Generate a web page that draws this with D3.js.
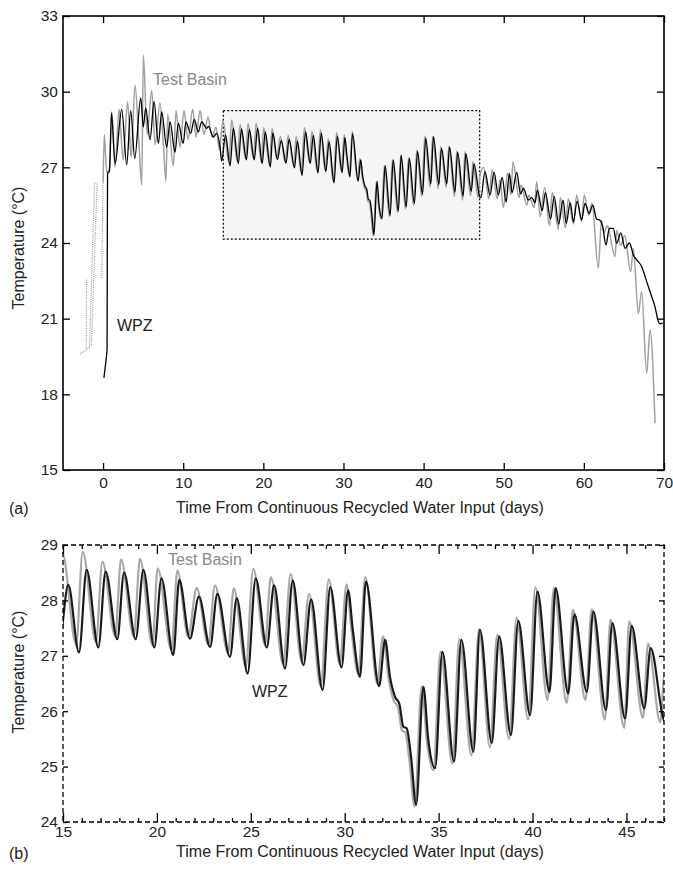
<!DOCTYPE html>
<html>
<head>
<meta charset="utf-8">
<script src="https://cdn.jsdelivr.net/npm/d3@7/dist/d3.min.js"></script>
<style>
body{margin:0;background:#fff;}
text{font-family:"Liberation Sans",Arial,sans-serif;}
</style>
</head>
<body>
<svg id="chart" width="673" height="869"></svg>
<script>
// WPZ temperature, [day, degC] (peaks and troughs)
var wpz = [[0.1,18.65],[0.35,19.3],[0.5,19.8],[0.53,24],[0.56,26.75],[0.8,26.85],[1.05,29.15],[1.5,27.15],
[2.33,29.3],[2.95,27.1],[3.45,29.25],[3.95,27.35],[4.7,29.75],[5.02,28.6],[5.32,29.35],[5.86,28.1],
[6.36,29.6],[6.9,27.95],[7.32,29.2],[7.94,27.8],[8.36,28.8],[8.98,27.6],[9.39,28.75],[10.0,27.95],
[10.34,28.8],[10.93,28.35],[11.38,28.9],[11.88,28.4],[12.3,28.8],[12.93,28.55],[13.15,28.62],[13.76,28.2],
[14.18,28.35],[14.6,27.8],[14.8,27.25],
[15.28,28.28],[15.85,27.06],[16.26,28.55],[16.88,27.15],[17.27,28.52],[17.89,27.3],[18.25,28.5],[18.87,27.3],
[19.28,28.55],[19.86,27.15],[20.24,28.4],[20.87,27.01],[21.19,28.37],[21.76,27.31],[22.24,28.07],[22.83,27.16],
[23.22,28.12],[23.89,26.98],[24.25,28.04],[24.83,26.68],[25.26,28.4],[25.85,27.15],[26.24,28.27],[26.82,26.77],
[27.23,28.36],[27.8,26.83],[28.21,28.02],[28.82,26.38],[29.23,28.24],[29.83,26.79],[30.18,28.18],[30.43,27.47],
[30.81,26.62],[31.13,28.34],[31.83,26.45],[32.15,27.29],[32.41,26.62],[32.68,26.26],[32.91,26.13],[33.12,25.72],
[33.3,25.69],[33.53,25.18],[33.8,24.31],[34.19,26.44],[34.45,25.48],[34.81,24.97],[35.2,27.07],[35.82,25.09],
[36.21,27.29],[36.85,25.27],[37.2,27.47],[37.83,25.43],[38.22,27.35],[38.85,25.57],[39.24,27.63],[39.87,25.93],
[40.26,28.16],[40.9,26.35],[41.23,28.22],[41.9,26.32],[42.23,27.75],[42.89,26.35],[43.24,27.8],[43.91,26.02],
[44.25,27.59],[44.93,25.87],[45.28,27.54],[45.95,26.05],[46.29,27.14],[47.0,25.84],
[47.15,25.8],[47.66,26.83],[48.29,25.9],[48.79,26.8],[49.33,25.9],[49.8,26.6],[50.3,25.62],[50.7,26.75],
[51.05,26.0],[51.62,26.8],[52.1,25.95],[52.44,26.17],[53.07,25.7],[53.5,25.8],[53.9,25.6],[54.2,26.1],
[54.8,25.28],[55.2,26.0],[55.85,24.95],[56.3,25.85],[56.85,24.75],[57.4,25.7],[57.8,24.78],[58.3,25.6],
[58.7,24.84],[59.15,25.65],[59.73,24.92],[60.14,25.57],[60.68,25.17],[61.1,25.5],[61.6,24.95],[62.0,24.9],
[62.35,24.65],[62.76,23.92],[63.18,24.58],[63.68,24.58],[64.1,23.99],[64.6,24.4],[65.14,23.79],[65.7,24.0],
[66.17,23.52],[66.6,23.33],[67.22,23.06],[67.84,22.47],[68.47,21.87],[68.88,21.47],[69.3,20.88],[69.5,20.79],
[69.84,20.82]];

// Test Basin temperature, [day, degC]
var basin = [[0.0,26.4],[0.16,28.3],[0.45,26.8],[0.8,27.0],[1.08,29.2],[1.5,27.0],[2.0,29.3],[2.5,27.3],
[3.07,29.6],[3.5,27.4],[3.99,30.25],[4.5,27.8],[4.82,26.3],[5.03,31.45],[5.5,28.3],[6.07,30.05],[6.5,27.9],
[7.1,29.55],[7.5,28.0],[7.85,26.45],[8.06,29.1],[8.77,27.05],[9.1,29.25],[9.6,27.8],[10.1,29.25],[10.6,28.1],
[11.19,29.3],[11.6,28.2],[12.1,29.25],[12.6,28.3],[13.1,29.0],[13.6,28.2],[14.1,28.6],[14.5,27.7],[14.97,28.85],
[15.7,27.2],[16.05,28.88],[16.75,27.25],[17.1,28.7],[17.78,27.35],[18.09,28.74],[18.77,27.35],[19.1,28.75],
[19.76,27.2],[20.04,28.58],[20.77,27.1],[21.09,28.54],[21.66,27.35],[22.12,28.22],[22.73,27.2],[23.09,28.27],
[23.79,27.05],[24.09,28.22],[24.73,26.8],[25.13,28.57],[25.75,27.2],[26.07,28.42],[26.72,26.85],[27.12,28.48],
[27.7,26.9],[28.1,28.12],[28.72,26.45],[29.15,28.38],[29.73,26.85],[30.1,28.29],[30.35,27.5],[30.71,26.68],
[31.1,28.42],[31.73,26.5],[32.05,27.35],[32.33,26.6],[32.6,26.2],[32.85,26.05],[33.05,25.65],[33.22,25.62],
[33.45,25.1],[33.72,24.28],[34.1,26.45],[34.38,25.45],[34.72,24.93],[35.1,27.07],[35.73,25.05],[36.1,27.3],
[36.75,25.2],[37.15,27.48],[37.73,25.35],[38.12,27.38],[38.75,25.5],[39.15,27.69],[39.77,25.85],[40.15,28.24],
[40.8,26.2],[41.13,28.22],[41.82,26.15],[42.15,27.83],[42.82,26.2],[43.15,27.84],[43.85,25.85],[44.15,27.65],
[44.88,25.7],[45.15,27.62],[45.88,25.88],[46.15,27.22],[46.8,25.8],[47.0,26.6],
[47.5,27.0],[48.15,25.75],[48.55,26.9],[49.2,25.75],[49.55,26.5],[49.95,25.4],[50.5,26.8],[50.9,25.9],
[51.15,27.22],[51.9,25.8],[52.15,26.3],[52.9,25.5],[53.1,25.9],[53.8,25.4],[54.1,26.43],[54.55,25.04],
[55.1,26.2],[55.7,24.68],[56.05,26.0],[56.82,24.54],[57.05,25.8],[57.7,24.6],[58.05,25.75],[58.7,24.75],
[59.1,25.9],[59.7,24.85],[60.05,25.9],[60.6,25.1],[61.0,25.6],[61.8,23.0],[62.2,24.9],[62.5,24.4],
[62.9,24.68],[63.9,23.46],[64.1,24.5],[64.6,23.9],[65.1,24.3],[65.84,22.86],[66.17,23.79],[66.8,21.21],
[67.21,22.07],[67.84,18.83],[68.26,20.55],[68.88,16.85]];

// Test Basin filling before day 0 (dotted)
var basinFill = [
  [[-2.9,19.6],[-2.1,19.75],[-2.05,22.6]],
  [[-2.05,19.8],[-1.7,19.85],[-1.05,26.4]],
  [[-1.7,19.9],[-1.45,19.98],[-0.75,26.4]],
  [[-0.17,22.6],[0.0,26.4]]
];

var zoomDays = [15, 47];
var zoomTemps = [24.15, 29.25];

var topXTicks = [0,10,20,30,40,50,60,70];
var topYTicks = [15,18,21,24,27,30,33];
var botXTicks = [15,20,25,30,35,40,45];
var botXMinor = d3.range(15, 48).filter(function(d){ return d % 5 !== 0; });
var botYTicks = [24,25,26,27,28,29];

var svg = d3.select("#chart");
var xLabel = "Time From Continuous Recycled Water Input (days)";
var yLabel = "Temperature (\u00B0C)";
var fmt = d3.format("d");

// ---------- panel (a) ----------
var A = {l:63, r:664, t:16, b:470};
var xa = d3.scaleLinear().domain([-5,70]).range([A.l, A.r]);
var ya = d3.scaleLinear().domain([15,33]).range([A.b, A.t]);

svg.append("rect")
  .attr("x", xa(zoomDays[0])).attr("y", ya(zoomTemps[1]))
  .attr("width", xa(zoomDays[1]) - xa(zoomDays[0]))
  .attr("height", ya(zoomTemps[0]) - ya(zoomTemps[1]))
  .attr("fill", "#f5f5f5")
  .attr("stroke", "#000").attr("stroke-width", 1.2).attr("stroke-dasharray", "2,2");

var lineA = d3.line().x(function(d){return xa(d[0]);}).y(function(d){return ya(d[1]);}).curve(d3.curveMonotoneX);
var lineAlin = d3.line().x(function(d){return xa(d[0]);}).y(function(d){return ya(d[1]);});

svg.selectAll(".fill").data(basinFill).enter().append("path")
  .attr("d", lineAlin).attr("fill", "none")
  .attr("stroke", "#999").attr("stroke-width", 1.2).attr("stroke-dasharray", "1,1.2");

svg.append("path").datum(basin).attr("d", lineA)
  .attr("fill", "none").attr("stroke", "#a0a0a0").attr("stroke-width", 1.5);
svg.append("path").datum(wpz).attr("d", lineA)
  .attr("fill", "none").attr("stroke", "#000").attr("stroke-width", 1.3);

function styleAxis(g){
  g.select(".domain").remove();
  g.selectAll("line").attr("stroke", "#000").attr("stroke-width", 1.3);
  g.selectAll("text").attr("font-size", 15.5).attr("fill", "#222")
    .attr("font-family", "'Liberation Sans', Arial, sans-serif");
}

svg.append("g").attr("transform", "translate(0," + A.b + ")")
  .call(d3.axisBottom(xa).tickValues(topXTicks).tickSize(-7).tickPadding(7).tickFormat(fmt)).call(styleAxis);
svg.append("g").attr("transform", "translate(0," + A.t + ")")
  .call(d3.axisTop(xa).tickValues(topXTicks).tickSize(-7).tickFormat("")).call(styleAxis);
svg.append("g").attr("transform", "translate(" + A.l + ",0)")
  .call(d3.axisLeft(ya).tickValues(topYTicks).tickSize(-7).tickPadding(5).tickFormat(fmt)).call(styleAxis);
svg.append("g").attr("transform", "translate(" + A.r + ",0)")
  .call(d3.axisRight(ya).tickValues(topYTicks).tickSize(-7).tickFormat("")).call(styleAxis);

svg.append("rect").attr("x", A.l).attr("y", A.t).attr("width", A.r - A.l).attr("height", A.b - A.t)
  .attr("fill", "none").attr("stroke", "#000").attr("stroke-width", 1.6);

svg.append("text").attr("x", 153).attr("y", 85).attr("font-size", 16).attr("fill", "#888").text("Test Basin");
svg.append("text").attr("x", 117).attr("y", 331).attr("font-size", 16).attr("fill", "#222").text("WPZ");
svg.append("text").attr("x", 360).attr("y", 513).attr("text-anchor", "middle").attr("font-size", 16).attr("fill", "#222").text(xLabel);
svg.append("text").attr("transform", "translate(24,248) rotate(-90)").attr("text-anchor", "middle")
  .attr("font-size", 16).attr("fill", "#222").text(yLabel);
svg.append("text").attr("x", 9).attr("y", 514).attr("font-size", 16).attr("fill", "#222").text("(a)");

// ---------- panel (b) ----------
var B = {l:63, r:664, t:545, b:822};
var xb = d3.scaleLinear().domain(zoomDays).range([B.l, B.r]);
var yb = d3.scaleLinear().domain([24,29]).range([B.b, B.t]);

svg.append("clipPath").attr("id", "clipB").append("rect")
  .attr("x", B.l).attr("y", B.t).attr("width", B.r - B.l).attr("height", B.b - B.t);

var lineB = d3.line().x(function(d){return xb(d[0]);}).y(function(d){return yb(d[1]);}).curve(d3.curveMonotoneX);
var gb = svg.append("g").attr("clip-path", "url(#clipB)");
gb.append("path").datum(basin.filter(function(d){return d[0] > 13 && d[0] < 49;})).attr("d", lineB)
  .attr("fill", "none").attr("stroke", "#a8a8a8").attr("stroke-width", 2.2);
gb.append("path").datum(wpz.filter(function(d){return d[0] > 13 && d[0] < 49;})).attr("d", lineB)
  .attr("fill", "none").attr("stroke", "#1a1a1a").attr("stroke-width", 2.2);

svg.append("g").attr("transform", "translate(0," + B.b + ")")
  .call(d3.axisBottom(xb).tickValues(botXTicks).tickSize(-9).tickPadding(4).tickFormat(fmt)).call(styleAxis);
svg.append("g").attr("transform", "translate(0," + B.t + ")")
  .call(d3.axisTop(xb).tickValues(botXTicks).tickSize(-9).tickFormat("")).call(styleAxis);
svg.append("g").attr("transform", "translate(0," + B.b + ")")
  .call(d3.axisBottom(xb).tickValues(botXMinor).tickSize(-4).tickFormat("")).call(styleAxis);
svg.append("g").attr("transform", "translate(0," + B.t + ")")
  .call(d3.axisTop(xb).tickValues(botXMinor).tickSize(-4).tickFormat("")).call(styleAxis);
svg.append("g").attr("transform", "translate(" + B.l + ",0)")
  .call(d3.axisLeft(yb).tickValues(botYTicks).tickSize(-5).tickPadding(5).tickFormat(fmt)).call(styleAxis);
svg.append("g").attr("transform", "translate(" + B.r + ",0)")
  .call(d3.axisRight(yb).tickValues(botYTicks).tickSize(-5).tickFormat("")).call(styleAxis);

svg.append("rect").attr("x", B.l).attr("y", B.t).attr("width", B.r - B.l).attr("height", B.b - B.t)
  .attr("fill", "none").attr("stroke", "#000").attr("stroke-width", 1.3).attr("stroke-dasharray", "5,3");

svg.append("text").attr("x", 168).attr("y", 565).attr("font-size", 16).attr("fill", "#888").text("Test Basin");
svg.append("text").attr("x", 252).attr("y", 697).attr("font-size", 16).attr("fill", "#222").text("WPZ");
svg.append("text").attr("x", 360).attr("y", 857).attr("text-anchor", "middle").attr("font-size", 16).attr("fill", "#222").text(xLabel);
svg.append("text").attr("transform", "translate(24,672) rotate(-90)").attr("text-anchor", "middle")
  .attr("font-size", 16).attr("fill", "#222").text(yLabel);
svg.append("text").attr("x", 9).attr("y", 859).attr("font-size", 16).attr("fill", "#222").text("(b)");
</script>
</body>
</html>
